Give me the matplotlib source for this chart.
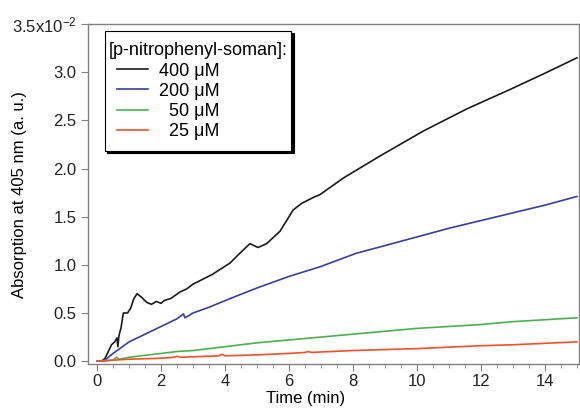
import matplotlib.pyplot as plt
from matplotlib.ticker import MultipleLocator
from matplotlib.offsetbox import DrawingArea

plt.rcParams['font.family'] = ['Liberation Sans', 'DejaVu Sans']
plt.rcParams['mathtext.default'] = 'regular'

# values (absorption in units of 1e-2)
t_400 = [0, 0.15, 0.25, 0.35, 0.45, 0.55, 0.62, 0.65, 0.68, 0.75, 0.82, 0.95, 1.05, 1.15,
         1.25, 1.4, 1.55, 1.7, 1.85, 2.0, 2.1, 2.3, 2.6, 2.8, 3.0, 3.3, 3.6, 4.16, 4.4,
         4.68, 4.78, 5.03, 5.3, 5.72, 6.13, 6.4, 6.76, 6.97, 7.69, 8.84, 10.2, 11.56,
         12.9, 14.0, 15.0]
a_400 = [0, 0.0, 0.03, 0.1, 0.17, 0.2, 0.24, 0.15, 0.26, 0.35, 0.5, 0.5, 0.55, 0.65,
         0.7, 0.66, 0.61, 0.59, 0.62, 0.6, 0.63, 0.65, 0.72, 0.75, 0.8, 0.85, 0.9, 1.02, 1.1,
         1.19, 1.22, 1.18, 1.22, 1.35, 1.57, 1.64, 1.70, 1.73, 1.9, 2.13, 2.39, 2.62,
         2.82, 2.99, 3.15]

t_200 = [0, 0.2, 0.5, 1.0, 1.5, 2.0, 2.5, 2.7, 2.75, 3.0, 3.5, 4.16, 5.0, 6.0, 6.97,
         8.1, 9.0, 10.0, 11.0, 12.0, 13.0, 14.0, 15.0]
a_200 = [0, 0.0, 0.08, 0.2, 0.28, 0.36, 0.44, 0.49, 0.45, 0.5, 0.56, 0.65, 0.76, 0.88, 0.98,
         1.12, 1.2, 1.29, 1.38, 1.46, 1.54, 1.62, 1.71]

t_50 = [0, 0.5, 0.6, 0.7, 1, 1.5, 2, 2.5, 3, 4, 5, 6, 7, 8, 9, 10, 11, 12, 13, 14, 15]
a_50 = [0, 0.01, 0.04, 0.02, 0.04, 0.06, 0.08, 0.1, 0.11, 0.15, 0.19, 0.22, 0.25, 0.28,
        0.31, 0.34, 0.36, 0.38, 0.41, 0.43, 0.45]

t_25 = [0, 0.5, 1, 2, 2.4, 2.5, 2.6, 3, 3.8, 3.9, 4.0, 5, 6, 6.5, 6.6, 6.7, 7, 8, 9, 10,
        11, 12, 13, 14, 15]
a_25 = [0, 0.01, 0.02, 0.03, 0.04, 0.05, 0.04, 0.045, 0.055, 0.07, 0.055, 0.065, 0.08,
        0.09, 0.1, 0.09, 0.095, 0.11, 0.12, 0.13, 0.145, 0.16, 0.17, 0.185, 0.2]

labels = ['400 \u03bcM', '200 \u03bcM', '  50 \u03bcM', '  25 \u03bcM']
colors = ['#1a1a1a', '#3c3c9c', '#4cb050', '#f0502a']

y_ticks = [0, 0.5, 1.0, 1.5, 2.0, 2.5, 3.0, 3.5]
y_labels = ['0.0', '0.5', '1.0', '1.5', '2.0', '2.5', '3.0', '3.5x10$^{-2}$']

fig = plt.figure(figsize=(5.8, 4.09), dpi=100)
ax = fig.add_axes([0.152, 0.110, 0.846, 0.831])

series = [(t_400, a_400), (t_200, a_200), (t_50, a_50), (t_25, a_25)]
for (t, a), lab, c in zip(series, labels, colors):
    ax.plot(t, a, color=c, lw=1.2, label=lab)

ax.set_xlim(-0.28, 15.06)
ax.set_ylim(-0.03, 3.5)
ax.set_xticks(range(0, 15, 2))
ax.xaxis.set_minor_locator(MultipleLocator(0.5))
ax.set_yticks(y_ticks)
ax.set_yticklabels(y_labels)

for s in ax.spines.values():
    s.set_color('#808080')
    s.set_linewidth(1.0)
ax.tick_params(axis='both', which='both', direction='out', colors='#808080',
               labelcolor='#222222', labelsize=12)
ax.tick_params(which='major', length=5)
ax.tick_params(which='minor', length=3)
ax.tick_params(axis='x', pad=2)

ax.set_xlabel('Time (min)', fontsize=12)
ax.set_ylabel('Absorption at 405 nm (a. u.)', fontsize=12)
ax.xaxis.set_label_coords(0.444, -0.08)
ax.yaxis.set_label_coords(-0.125, 0.5)

leg = ax.legend(title='[p-nitrophenyl-soman]:', loc='upper left',
                bbox_to_anchor=(0.035, 0.979), borderaxespad=0, fontsize=13,
                title_fontsize=13, alignment='left', handlelength=1.7,
                handletextpad=0.6, fancybox=False, edgecolor='black',
                shadow={'color': 'black', 'alpha': 1.0, 'ox': 1.5, 'oy': -1.5},
                framealpha=1.0, labelspacing=0.18, borderpad=0.2)
leg.get_frame().set_linewidth(0.8)
# indent the entries under the title, and pad above/below
leg._legend_handle_box.get_children().insert(0, DrawingArea(0, 0))
leg._legend_handle_box.sep = 6
leg._legend_box.get_children().insert(0, DrawingArea(0, 3))
leg._legend_box.get_children().append(DrawingArea(0, 3))

fig.savefig('out.png', dpi=100)
